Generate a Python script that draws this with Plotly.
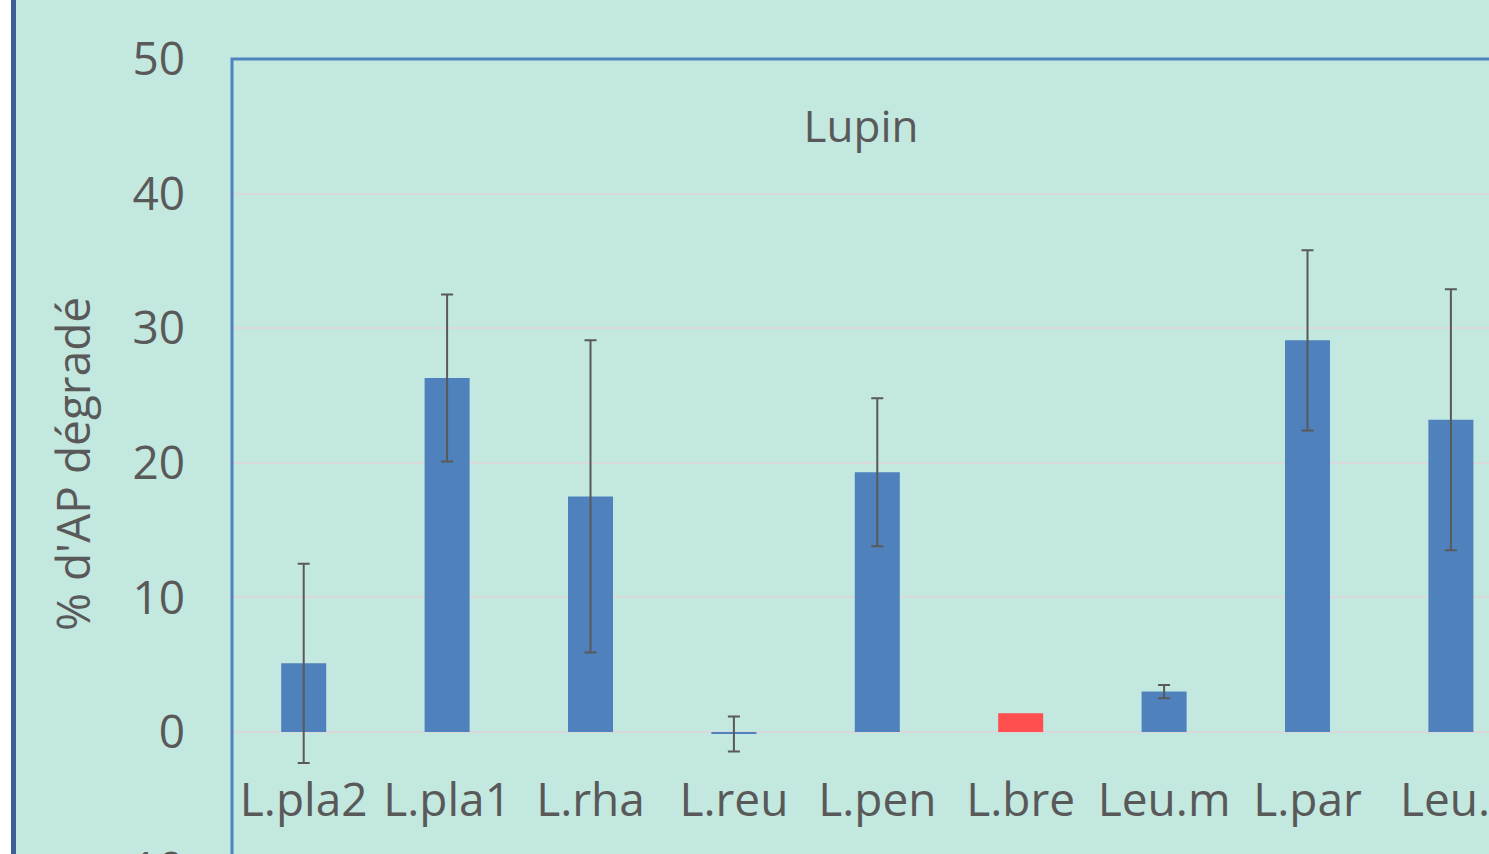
import plotly.graph_objects as go

categories = ["L.pla2", "L.pla1", "L.rha", "L.reu", "L.pen", "L.bre", "Leu.m", "L.par", "Leu.l"]
values = [5.1, 26.3, 17.5, -0.15, 19.3, 1.4, 3.0, 29.1, 23.2]
errors = [7.4, 6.2, 11.6, 1.3, 5.5, None, 0.5, 6.7, 9.7]
highlight = ["L.bre"]
y_ticks = [0, 10, 20, 30, 40, 50]

BLUE = "#4F81BD"
RED = "#FF4F4F"
TEXT = "#595959"
BG = "#C3E8E0"
FONT = "Open Sans"

W, H = 1489, 854
ML, MT = 232, 59
y_max = 50
px_per_unit = 13.46
y_min = y_max - (H - MT) / px_per_unit
x_min = -0.5
x_max = x_min + (W - ML) / 143.4

colors = [RED if c in highlight else BLUE for c in categories]
# missing error values must not draw a cap: plotly.js skips non-numeric entries
err_plot = ["NaN" if e is None else e for e in errors]

fig = go.Figure()
fig.add_trace(go.Bar(
    x=categories, y=values,
    marker=dict(color=colors, line=dict(width=0)),
    width=0.314,
    error_y=dict(type="data", array=err_plot, visible=True, color=TEXT, thickness=2, width=6),
))

zero_pos = (0 - y_min) / (y_max - y_min)
fig.update_layout(
    width=W, height=H,
    margin=dict(l=ML, r=0, t=MT, b=0, pad=0, autoexpand=False),
    paper_bgcolor=BG, plot_bgcolor=BG,
    font=dict(family=FONT, color=TEXT),
    showlegend=False,
    title=dict(text="Lupin", x=861 / W, y=1 - 127 / H, xref="container", yref="container",
               xanchor="center", yanchor="middle", font=dict(size=44, color=TEXT, family=FONT)),
    xaxis=dict(type="category", range=[x_min, x_max], showgrid=False, showline=False, zeroline=False,
               ticks="", anchor="free", position=zero_pos, tickfont=dict(size=46),
               ticklabelstandoff=37, automargin=False),
    yaxis=dict(range=[y_min, y_max], tickvals=y_ticks, showgrid=True, gridcolor="#D9D9D9", gridwidth=2,
               zeroline=True, zerolinecolor="#D9D9D9", zerolinewidth=2, automargin=False,
               showline=False, ticks="", tickfont=dict(size=46), ticklabelstandoff=46),
)

# y-axis title (Excel centres it on the chart height)
fig.add_annotation(text="% d'AP dégradé", xref="paper", yref="paper", x=0, xanchor="center",
                   xshift=-(ML - 72), y=(1 - (464 - MT) / (H - MT)), yanchor="middle",
                   textangle=-90, showarrow=False, font=dict(size=46, color=TEXT, family=FONT))
# plot-area frame (left and top edges visible)
fig.add_shape(type="rect", xref="paper", yref="paper", x0=0, x1=1.05, y0=-0.05, y1=1,
              line=dict(color=BLUE, width=3), fillcolor="rgba(0,0,0,0)", layer="above")
# outer chart border strip at left
fig.add_shape(type="rect", xref="paper", yref="paper", x0=-ML / (W - ML), x1=-(ML - 11) / (W - ML),
              y0=-0.1, y1=1 + MT / (H - MT), line=dict(width=0), fillcolor="white", layer="above")
fig.add_shape(type="rect", xref="paper", yref="paper", x0=-(ML - 11) / (W - ML), x1=-(ML - 16) / (W - ML),
              y0=-0.1, y1=1 + MT / (H - MT), line=dict(width=0), fillcolor="#3C5F95", layer="above")
# partially visible -10 tick label
fig.add_annotation(text="-10", xref="paper", yref="paper", x=0, xanchor="right", xshift=-46,
                   y=(-10 - y_min) / (y_max - y_min), yanchor="middle", showarrow=False,
                   font=dict(size=46, color=TEXT, family=FONT))

fig.write_html("out.html", config={"displayModeBar": False},
               post_script="document.body.style.margin='0';document.body.style.overflow='hidden';")
